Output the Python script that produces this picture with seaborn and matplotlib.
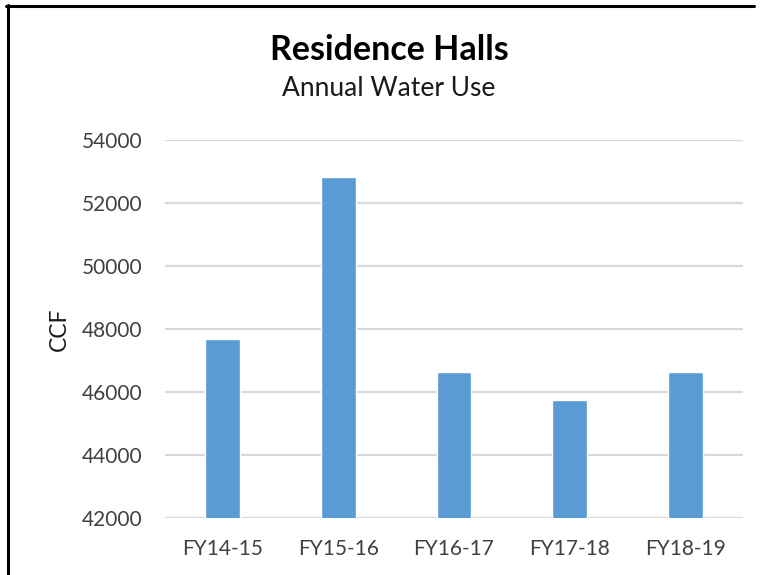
import matplotlib
matplotlib.use('Agg')
import matplotlib.pyplot as plt
import seaborn as sns
import pandas as pd
from matplotlib.lines import Line2D

# values
years = ['FY14-15', 'FY15-16', 'FY16-17', 'FY17-18', 'FY18-19']
water_ccf = [47670, 52815, 46635, 45745, 46635]
y_ticks = [42000, 44000, 46000, 48000, 50000, 52000, 54000]

sns.set_theme(style="white")
plt.rcParams['font.family'] = ['Lato', 'DejaVu Sans']

df = pd.DataFrame({'year': years, 'ccf': water_ccf})

fig = plt.figure(figsize=(7.62, 5.75), dpi=100)
ax = fig.add_axes([165 / 762, 1 - 518 / 575, (743 - 165) / 762, (518 - 140) / 575])

sns.barplot(data=df, x='year', y='ccf', color='#5B9BD5', width=0.3,
            saturation=1, ax=ax)

ax.set_ylim(42000, 54000)
ax.set_xlim(-0.5, len(years) - 0.5)
ax.set_yticks(y_ticks)
ax.set_yticklabels([str(t) for t in y_ticks])
ax.yaxis.grid(True, color='#d9d9d9', lw=1.6)
ax.xaxis.grid(False)
ax.set_axisbelow(True)
sns.despine(ax=ax, left=True, bottom=True)
ax.tick_params(axis='both', length=0, labelsize=15, colors='#404040')
ax.tick_params(axis='y', pad=16)
ax.tick_params(axis='x', pad=15)
ax.set_xlabel('')
ax.set_ylabel('CCF', fontsize=16.5, color='#1a1a1a', labelpad=9)

fig.text(389 / 762, 1 - 50 / 575, 'Residence Halls', ha='center', va='center',
         fontsize=24.5, fontweight='bold', color='black')
fig.text(389 / 762, 1 - 89 / 575, 'Annual Water Use', ha='center', va='center',
         fontsize=19, color='#1a1a1a')

# black frame along the left and top edges
fig.add_artist(Line2D([7.5 / 762, 7.5 / 762], [0, 1 - 5 / 575],
                      transform=fig.transFigure, color='black', lw=2.2))
fig.add_artist(Line2D([6 / 762, 754 / 762], [1 - 5.5 / 575, 1 - 5.5 / 575],
                      transform=fig.transFigure, color='black', lw=2.2))

fig.savefig('out.png', dpi=100, facecolor='white')
